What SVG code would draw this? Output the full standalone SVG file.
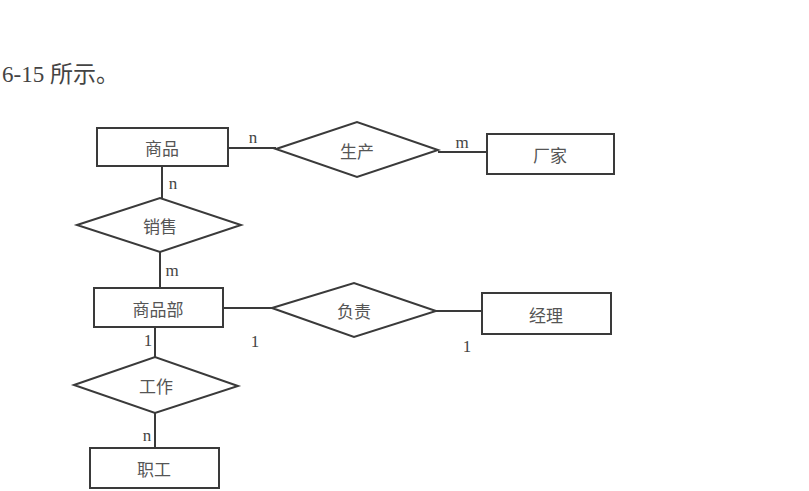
<svg xmlns="http://www.w3.org/2000/svg" width="809" height="491" viewBox="0 0 809 491">
<style>
.ent rect{fill:#fff;stroke:#3a3a3a;stroke-width:2}
.rel polygon{fill:#fff;stroke:#3a3a3a;stroke-width:2}
.lbl{font-family:"Noto Sans CJK SC",sans-serif;font-size:17px;fill:#555;text-anchor:middle;dominant-baseline:central}
.card{font-family:"Liberation Serif",serif;font-size:17px;fill:#444;text-anchor:middle}
#connectors line{stroke:#3a3a3a;stroke-width:2}
</style>
<rect width="809" height="491" fill="#fff"/>
<text x="2" y="82" style="font-family:'Liberation Serif','Noto Sans CJK SC',serif;font-size:23px;fill:#444">6-15 所示。</text>
<g id="connectors">
<line x1="229" y1="148" x2="276" y2="148"/>
<line x1="438" y1="152" x2="487" y2="152"/>
<line x1="162" y1="166" x2="162" y2="198"/>
<line x1="160" y1="252" x2="160" y2="288"/>
<line x1="223" y1="308" x2="272" y2="308"/>
<line x1="436" y1="311" x2="482" y2="311"/>
<line x1="155" y1="327" x2="155" y2="357"/>
<line x1="155" y1="413" x2="155" y2="448"/>
<text class="card" x="253" y="143">n</text>
<text class="card" x="462" y="148">m</text>
<text class="card" x="173" y="189">n</text>
<text class="card" x="172" y="276">m</text>
<text class="card" x="148" y="346">1</text>
<text class="card" x="255" y="347">1</text>
<text class="card" x="467" y="352">1</text>
<text class="card" x="147" y="441">n</text>
</g>
<g id="shangpin" class="ent"><rect x="97" y="128" width="131" height="38"/><text class="lbl" x="162" y="147">商品</text></g>
<g id="changjia" class="ent"><rect x="487" y="134" width="127" height="40"/><text class="lbl" x="550" y="154">厂家</text></g>
<g id="shangpinbu" class="ent"><rect x="94" y="288" width="129" height="39"/><text class="lbl" x="158" y="308">商品部</text></g>
<g id="jingli" class="ent"><rect x="482" y="293" width="129" height="41"/><text class="lbl" x="546" y="314">经理</text></g>
<g id="zhigong" class="ent"><rect x="90" y="448" width="129" height="40"/><text class="lbl" x="154" y="468">职工</text></g>
<g id="shengchan" class="rel"><polygon points="276,149 357,122 438,150 357,177"/><text class="lbl" x="357" y="150">生产</text></g>
<g id="xiaoshou" class="rel"><polygon points="77,225 160,198 241,225 160,252"/><text class="lbl" x="160" y="225">销售</text></g>
<g id="fuze" class="rel"><polygon points="272,308 354,283 436,311 354,337"/><text class="lbl" x="354" y="310">负责</text></g>
<g id="gongzuo" class="rel"><polygon points="74,385 155,357 238,386 155,413"/><text class="lbl" x="156" y="385">工作</text></g>
</svg>
